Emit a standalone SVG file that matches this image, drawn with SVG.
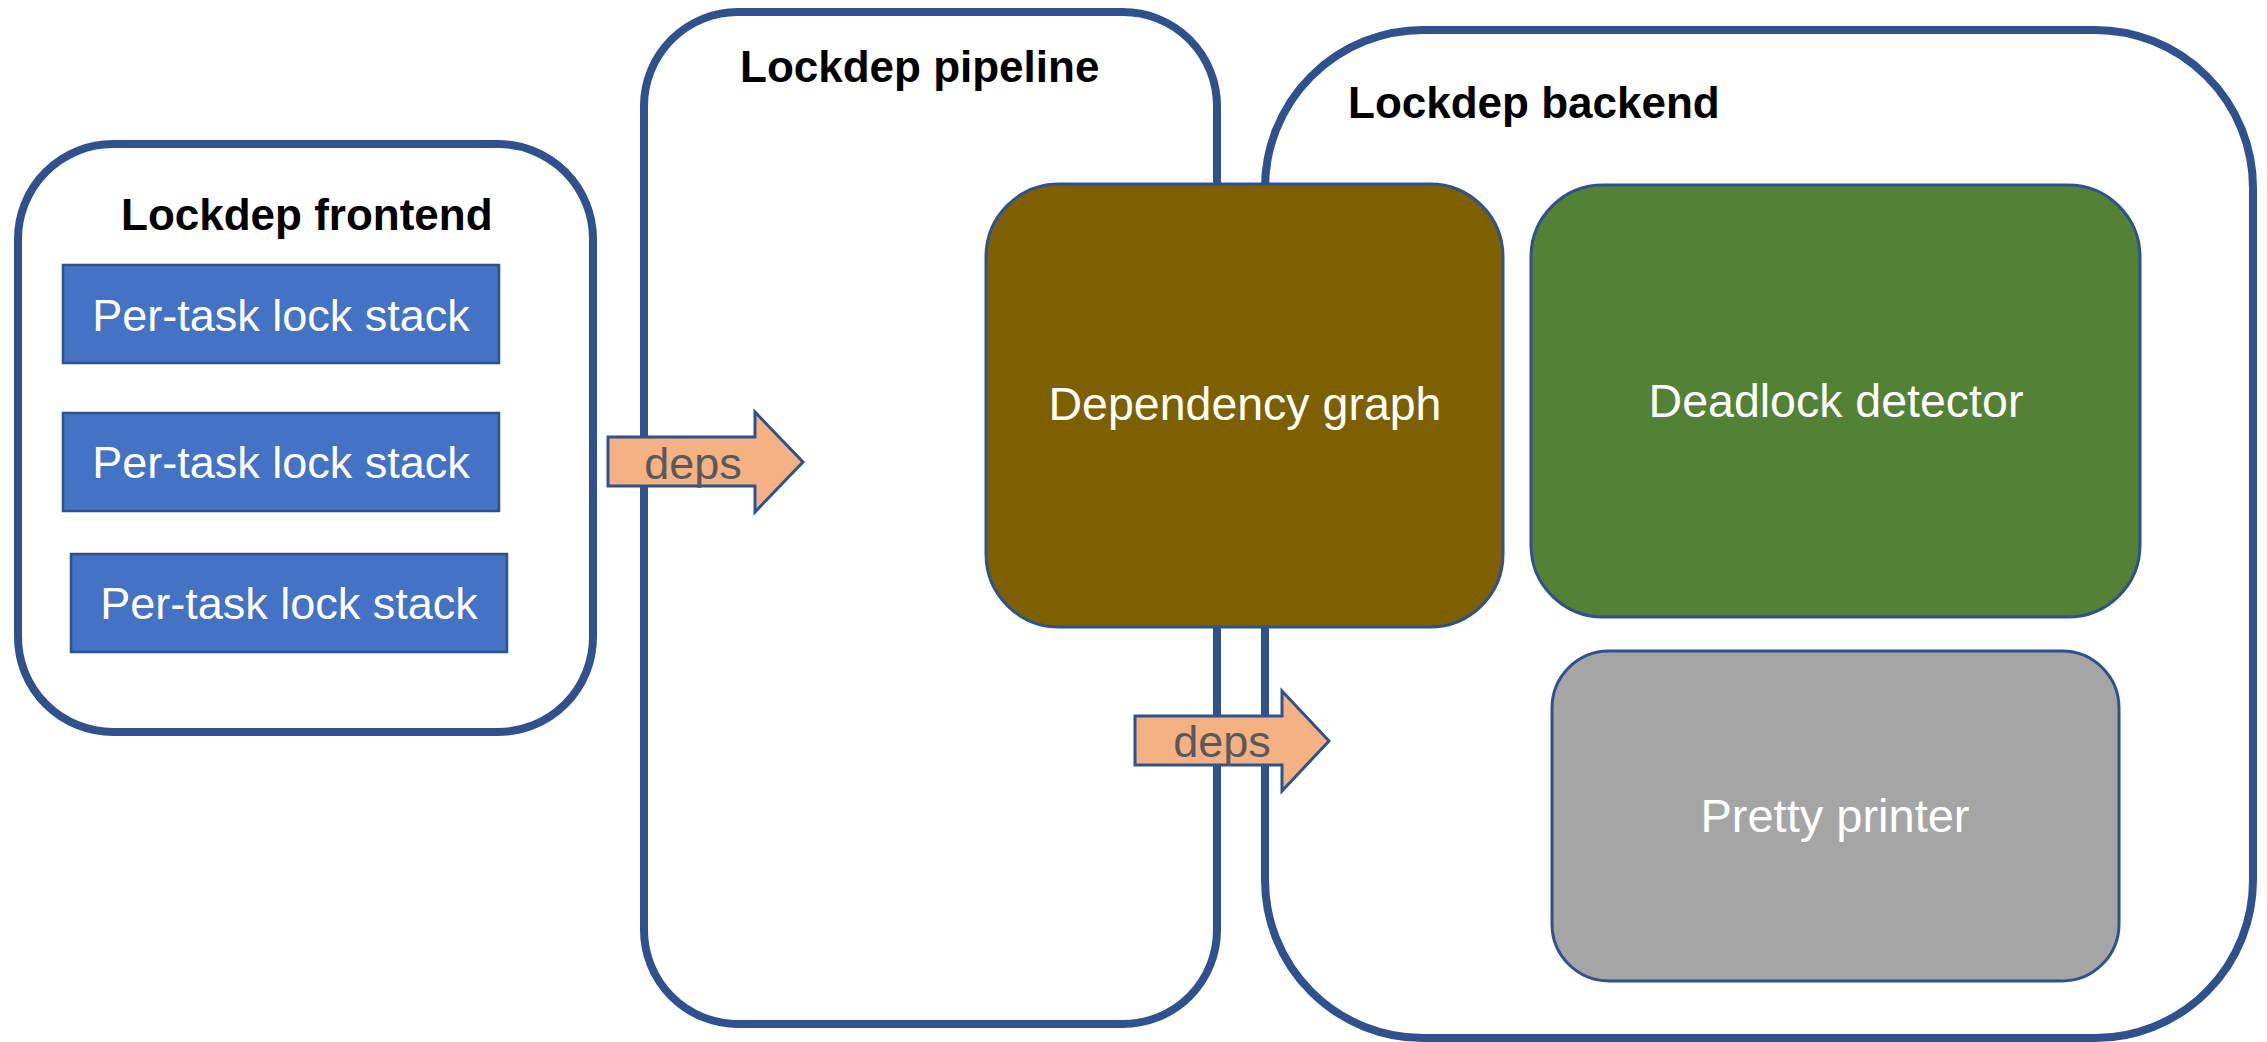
<svg xmlns="http://www.w3.org/2000/svg" width="2267" height="1042" viewBox="0 0 2267 1042">
<style>
.container{fill:#FFFFFF;stroke:#2F528F;stroke-width:8}
.title{font-family:"Liberation Sans",Arial,sans-serif;font-weight:bold;font-size:44px;fill:#000000}
.stack{fill:#4472C4;stroke:#2F528F;stroke-width:2.5}
.label{font-family:"Liberation Sans",Arial,sans-serif;font-size:45px;fill:#FFFFFF;text-anchor:middle}
.big{font-size:46.5px}
.inner{stroke:#2F528F;stroke-width:3}
.arrow{fill:#F4B183;stroke:#2F528F;stroke-width:3;stroke-linejoin:miter}
.deps{font-family:"Liberation Sans",Arial,sans-serif;font-size:45px;fill:#595959;text-anchor:middle}
</style>
<rect width="2267" height="1042" fill="#FFFFFF"/>

<g id="frontend">
  <rect class="container" x="18" y="144" width="575" height="588" rx="95" ry="95"/>
  <text class="title" x="121" y="230">Lockdep frontend</text>
</g>
<g id="stack1">
  <rect class="stack" x="63" y="265" width="436" height="98"/>
  <text class="label" x="281" y="331">Per-task lock stack</text>
</g>
<g id="stack2">
  <rect class="stack" x="63" y="413" width="436" height="98"/>
  <text class="label" x="281" y="478">Per-task lock stack</text>
</g>
<g id="stack3">
  <rect class="stack" x="71" y="554" width="436" height="98"/>
  <text class="label" x="289" y="619">Per-task lock stack</text>
</g>

<g id="pipeline">
  <rect class="container" x="644" y="12" width="573" height="1012" rx="94" ry="94"/>
  <text class="title" x="740" y="82">Lockdep pipeline</text>
</g>

<g id="backend">
  <rect class="container" x="1265" y="30" width="988" height="1008" rx="158" ry="158"/>
  <text class="title" x="1348" y="118">Lockdep backend</text>
</g>

<g id="dependency-graph">
  <rect class="inner" x="986" y="184" width="517" height="443" rx="73" ry="73" fill="#7F6000"/>
  <text class="label big" x="1245" y="420">Dependency graph</text>
</g>

<g id="deadlock-detector">
  <rect class="inner" x="1531" y="185" width="609" height="432" rx="72" ry="72" fill="#538135"/>
  <text class="label big" x="1836" y="417">Deadlock detector</text>
</g>

<g id="pretty-printer">
  <rect class="inner" x="1552" y="651" width="567" height="330" rx="57" ry="57" fill="#A5A5A5"/>
  <text class="label" x="1835" y="832" style="font-size:47px">Pretty printer</text>
</g>

<g id="connectors">
  <g id="arrow-deps-1">
    <path class="arrow" d="M608,437 L755,437 L755,412 L803,462 L755,512 L755,486 L608,486 Z"/>
    <text class="deps" x="693" y="479">deps</text>
  </g>
  <g id="arrow-deps-2">
    <path class="arrow" d="M1135,716 L1282,716 L1282,691 L1329,741 L1282,791 L1282,765 L1135,765 Z"/>
    <text class="deps" x="1222" y="757">deps</text>
  </g>
</g>
</svg>
